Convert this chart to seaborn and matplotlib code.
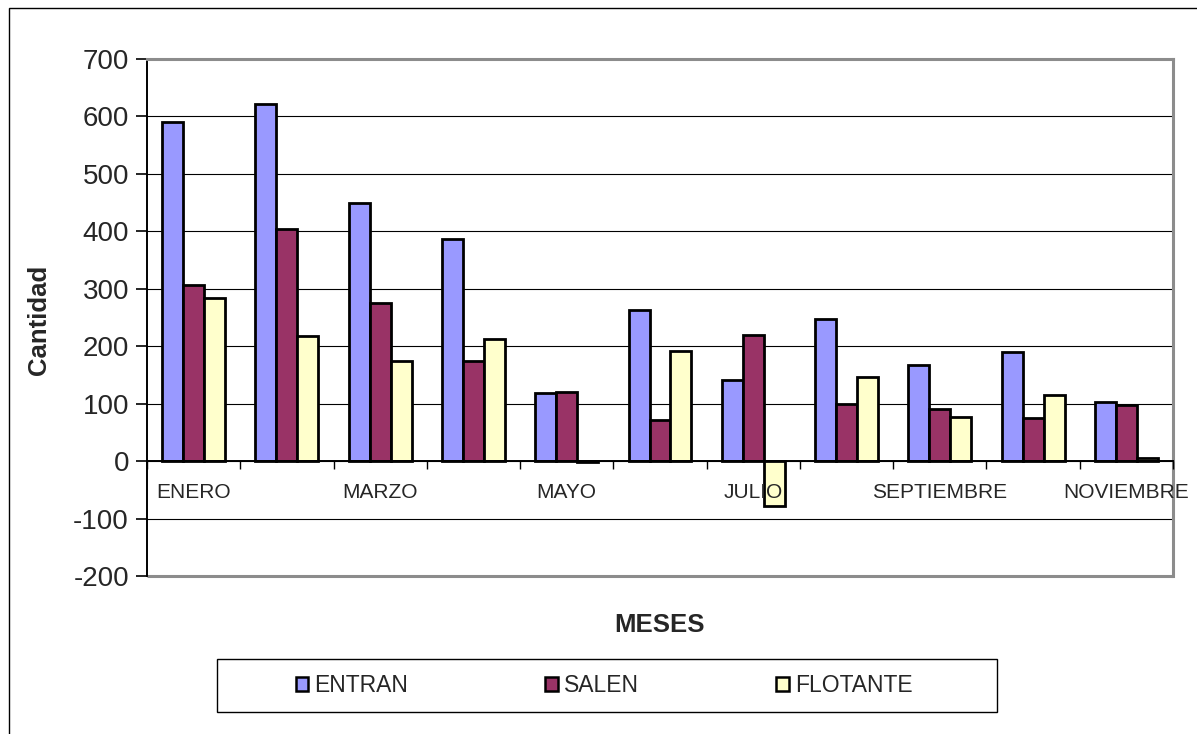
import matplotlib
matplotlib.use("Agg")
import matplotlib.pyplot as plt
from matplotlib.patches import Rectangle, Patch
from matplotlib.ticker import FixedLocator, NullFormatter
import seaborn as sns
import pandas as pd

months = ["ENERO", "FEBRERO", "MARZO", "ABRIL", "MAYO", "JUNIO", "JULIO",
          "AGOSTO", "SEPTIEMBRE", "OCTUBRE", "NOVIEMBRE"]
series = ["ENTRAN", "SALEN", "FLOTANTE"]
entran = [591, 621, 450, 387, 118, 263, 141, 247, 167, 190, 103]
salen = [307, 404, 275, 175, 120, 72, 220, 100, 91, 75, 97]
flotante = [284, 217, 175, 212, -2, 191, -78, 147, 76, 115, 5]
colors = ["#9999FF", "#993366", "#FFFFCC"]
y_ticks = [-200, -100, 0, 100, 200, 300, 400, 500, 600, 700]

df = pd.DataFrame({
    "MES": months * 3,
    "Cantidad": entran + salen + flotante,
    "Serie": [s for s in series for _ in months],
})

sns.set_theme(style="white")
plt.rcParams["font.family"] = ["Liberation Sans", "DejaVu Sans"]

W, H = 1197, 734
fig = plt.figure(figsize=(W / 100, H / 100), dpi=100)
ax = fig.add_axes([147 / W, 1 - 576 / H, 1026 / W, 517 / H])

sns.barplot(data=df, x="MES", y="Cantidad", hue="Serie", order=months,
            hue_order=series, palette=colors, saturation=1, errorbar=None,
            edgecolor="black", linewidth=2.0, width=0.675, gap=0, ax=ax)
if ax.get_legend() is not None:
    ax.get_legend().remove()

ax.set_xlim(-0.5, len(months) - 0.5)
ax.set_ylim(-200, 700)
ax.set_yticks(y_ticks)
ax.set_yticklabels([str(v) for v in y_ticks], fontsize=20)
ax.tick_params(axis="y", direction="out", length=8, width=1.2, color="black",
               pad=5, left=True)

# gridlines
ax.yaxis.grid(True, color="black", linewidth=0.8)
ax.set_axisbelow(True)
ax.xaxis.set_zorder(3)

# spines
for s in ["top", "right"]:
    ax.spines[s].set_color("#8c8c8c")
    ax.spines[s].set_linewidth(2.2)
ax.spines["left"].set_color("black")
ax.spines["left"].set_linewidth(1.4)
ax.spines["bottom"].set_position(("data", 0))
ax.spines["bottom"].set_color("black")
ax.spines["bottom"].set_linewidth(1.4)
# bottom border of plot area
ax.add_patch(Rectangle((0, 0), 1, 0, transform=ax.transAxes, fill=False,
                       edgecolor="#8c8c8c", linewidth=2.2, clip_on=False))

# category ticks: boundaries as major ticks, labels on minor ticks
ax.xaxis.set_major_locator(FixedLocator([i - 0.5 for i in range(len(months) + 1)]))
ax.xaxis.set_major_formatter(NullFormatter())
ax.xaxis.set_minor_locator(FixedLocator(list(range(len(months)))))
ax.set_xticklabels([m if i % 2 == 0 else "" for i, m in enumerate(months)],
                   minor=True, fontsize=15)
ax.tick_params(axis="x", which="major", direction="out", length=6, width=1.0,
               color="black", bottom=True)
ax.tick_params(axis="x", which="minor", length=0, pad=16, bottom=True)

ax.set_xlabel("MESES", fontsize=18.5, fontweight="bold")
ax.xaxis.set_label_coords(0.5, -0.072)
ax.set_ylabel("Cantidad", fontsize=18.5, fontweight="bold")
ax.yaxis.set_label_coords(-0.0935, 0.495)

# legend
handles = [Patch(facecolor=c, edgecolor="black", linewidth=1.8) for c in colors]
fig.legend(handles, series, loc="center", ncol=3, frameon=False,
           bbox_to_anchor=(604 / W, 1 - 686 / H), fontsize=16.5,
           handlelength=0.55, handleheight=0.55, handletextpad=0.25,
           columnspacing=6.0)
fig.add_artist(Rectangle((217 / W, 1 - 712 / H), 780 / W, 53 / H,
                         transform=fig.transFigure, fill=False,
                         edgecolor="black", linewidth=1.0))

# outer chart border
fig.add_artist(Rectangle((9 / W, -0.1), 1.2, 1.1 - 8 / H,
                         transform=fig.transFigure, fill=False,
                         edgecolor="black", linewidth=1.0, clip_on=False))

fig.savefig("out.png", dpi=100)
